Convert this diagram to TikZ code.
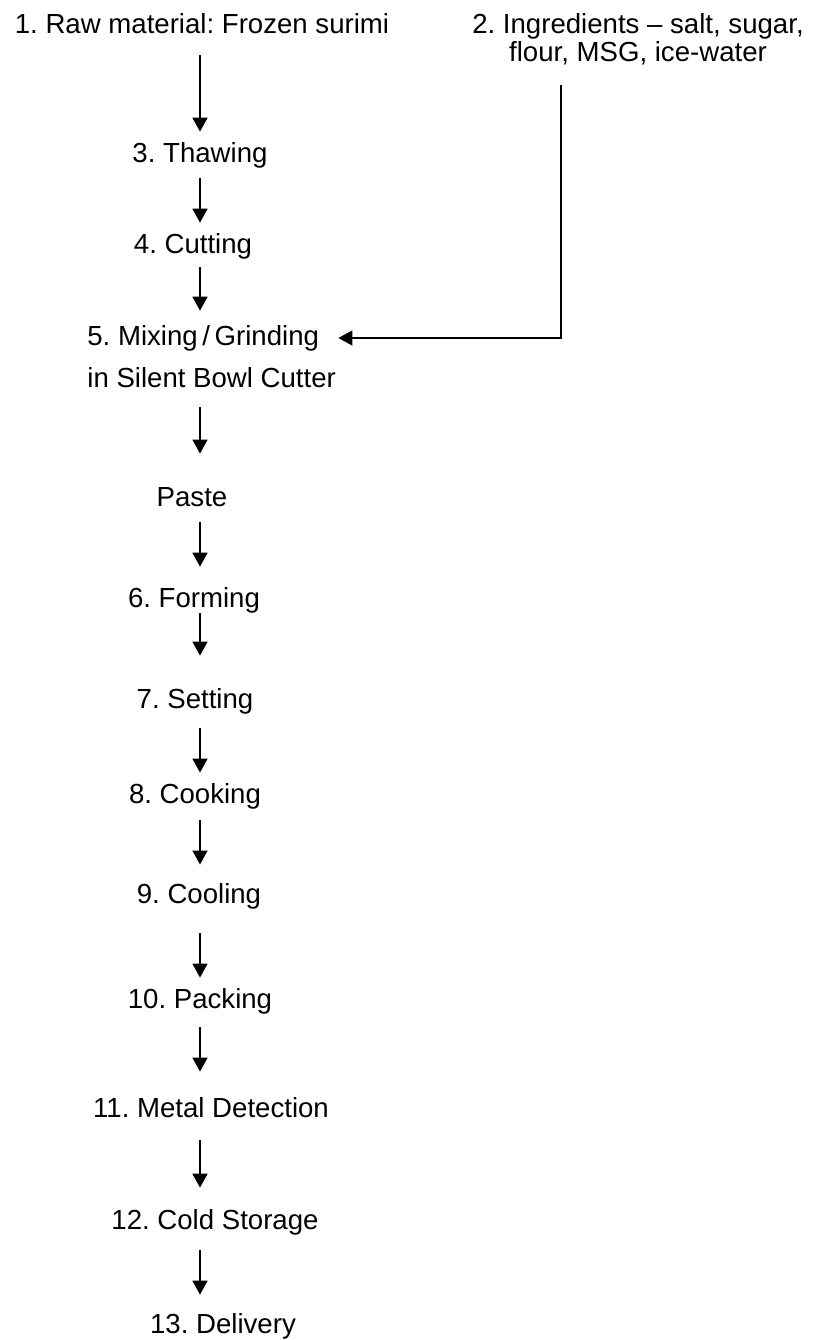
\documentclass[tikz,border=0pt]{standalone}
\usepackage{fontspec}
\setmainfont{Liberation Sans}
\usetikzlibrary{arrows.meta}
\frenchspacing

\tikzset{
  stage/.style={inner sep=0pt, text height=10pt, text depth=3pt, anchor=base},
  flow/.style={-{Triangle[length=7pt,width=7.5pt]}, line width=0.7pt},
}

\begin{document}
\begin{tikzpicture}[x=0.5pt,y=-0.5pt,font=\fontsize{13.8}{16.5}\selectfont]
\useasboundingbox (0,0) rectangle (814,1340);

% inputs
\node[stage] (n1) at (202,33) {1. Raw material: Frozen surimi};
\node[inner sep=0pt, anchor=north, align=center,
      font=\fontsize{13.8}{12.3}\selectfont] (n2) at (638,13)
      {2. Ingredients -- salt, sugar,\\ flour, MSG, ice-water};

% process steps
\node[stage] (n3) at (200,162) {3. Thawing};
\node[stage] (n4) at (193,253) {4. Cutting};
\node[stage, anchor=base west] (n5) at (87,345) {5. Mixing\,/\,Grinding};
\node[stage, anchor=base west] (n5b) at (87,387) {in Silent Bowl Cutter};
\node[stage] (paste) at (192,506) {Paste};
\node[stage] (n6) at (194,607) {6. Forming};
\node[stage] (n7) at (195,708) {7. Setting};
\node[stage] (n8) at (195,803) {8. Cooking};
\node[stage] (n9) at (199,903) {9. Cooling};
\node[stage] (n10) at (200,1008) {10. Packing};
\node[stage] (n11) at (211,1117) {11. Metal Detection};
\node[stage] (n12) at (215,1229) {12. Cold Storage};
\node[stage] (n13) at (223,1333) {13. Delivery};

\coordinate (spine) at (200,0);
\coordinate (ing) at (561,85);

% main flow
\foreach \a/\b/\p/\q in {n1/n3/8/5, n3/n4/5/5, n4/n5/4/7, n5b/paste/7/16,
    paste/n6/5/10, n6/n7/0/16, n7/n8/7/5, n8/n9/5.5/9, n9/n10/12/5,
    n10/n11/6.5/12.5, n11/n12/8.5/10.5, n12/n13/7.5/9}
  \draw[flow, shorten <=\p pt, shorten >=\q pt] (\a.south -| spine) -- (\b.north -| spine);

% ingredients into the cutter
\draw[flow, shorten >=9.5pt] (ing) |- (n5.east);
\end{tikzpicture}
\end{document}
